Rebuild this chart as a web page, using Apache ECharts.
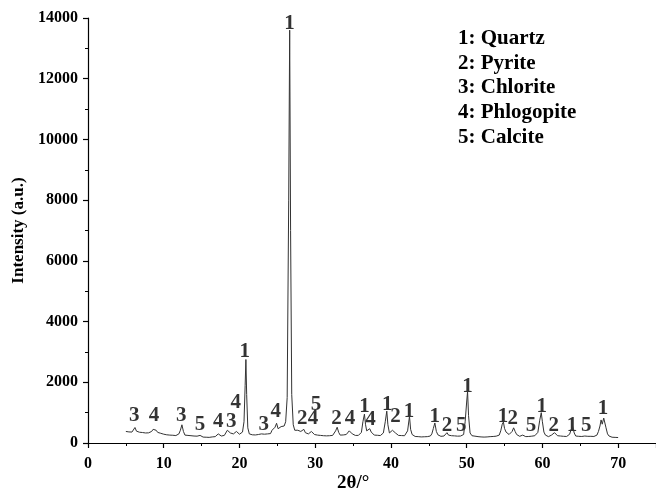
<!DOCTYPE html>
<html>
<head>
<meta charset="utf-8">
<script src="https://cdn.jsdelivr.net/npm/echarts@6/dist/echarts.min.js"></script>
<style>
  html, body { margin: 0; padding: 0; background: #fff; }
  #chart { width: 656px; height: 492px; }
</style>
</head>
<body>
<div id="chart"></div>
<script>
// XRD pattern: [2θ, intensity]
const pattern = [
  [5.0,380],[5.2,350],[5.4,365],[5.6,330],[5.8,360],[6.0,420],[6.2,510],[6.4,390],[6.6,340],[6.8,355],
  [7.0,320],[7.2,345],[7.4,310],[7.6,330],[7.8,300],[8.0,335],[8.2,320],[8.4,380],[8.6,450],[8.8,500],
  [9.0,420],[9.2,350],[9.4,300],[9.6,320],[9.8,270],[10.0,290],[10.2,250],[10.4,270],[10.6,240],[10.8,260],
  [11.0,230],[11.2,255],[11.4,225],[11.6,245],[11.8,260],[12.0,300],[12.2,420],[12.4,600],[12.6,380],[12.8,260],
  [13.0,230],[13.2,250],[13.4,210],[13.6,240],[13.8,215],[14.0,230],[14.2,200],[14.4,225],[14.6,205],[14.8,250],
  [15.0,215],[15.2,195],[15.4,220],[15.6,190],[15.8,210],[16.0,185],[16.2,215],[16.4,200],[16.6,230],[16.8,210],
  [17.0,250],[17.2,300],[17.4,260],[17.6,230],[17.8,270],[18.0,250],[18.2,310],[18.4,420],[18.6,480],[18.8,330],
  [19.0,280],[19.2,300],[19.4,330],[19.6,380],[19.8,320],[20.0,290],[20.2,310],[20.4,360],[20.6,700],[20.75,1900],
  [20.85,2750],[20.95,1600],[21.1,500],[21.3,300],[21.5,250],[21.7,270],[21.9,240],[22.1,265],[22.3,250],[22.5,280],
  [22.7,260],[22.9,300],[23.1,340],[23.3,290],[23.5,330],[23.7,300],[23.9,360],[24.1,310],[24.3,420],[24.5,380],
  [24.7,520],[24.9,650],[25.1,470],[25.3,500],[25.5,540],[25.7,480],[25.9,560],[26.1,700],[26.3,1500],[26.5,8000],
  [26.63,13600],[26.75,7000],[26.9,1600],[27.1,600],[27.3,420],[27.5,380],[27.7,420],[27.9,480],[28.1,380],[28.3,400],
  [28.5,450],[28.7,340],[28.9,320],[29.1,300],[29.3,330],[29.5,380],[29.7,320],[29.9,280],[30.1,300],[30.3,260],
  [30.5,285],[30.7,250],[30.9,270],[31.1,240],[31.3,265],[31.5,235],[31.7,255],[31.9,240],[32.1,270],[32.3,250],
  [32.5,300],[32.7,400],[32.9,520],[33.1,350],[33.3,260],[33.5,240],[33.7,265],[33.9,250],[34.1,280],[34.3,320],
  [34.5,400],[34.7,360],[34.9,300],[35.1,270],[35.3,250],[35.5,230],[35.7,250],[35.9,280],[36.1,350],[36.3,700],
  [36.5,950],[36.65,600],[36.8,400],[37.0,430],[37.2,470],[37.4,360],[37.6,300],[37.8,260],[38.0,240],[38.2,255],
  [38.4,230],[38.6,245],[38.8,270],[39.0,330],[39.25,700],[39.45,1050],[39.6,600],[39.8,330],[40.0,380],[40.2,420],
  [40.4,380],[40.6,330],[40.8,280],[41.0,250],[41.2,230],[41.4,245],[41.6,220],[41.8,240],[42.0,260],[42.2,400],
  [42.45,880],[42.6,450],[42.8,280],[43.0,230],[43.2,215],[43.4,235],[43.6,210],[43.8,225],[44.0,200],[44.2,220],
  [44.4,205],[44.6,225],[44.8,210],[45.0,240],[45.2,230],[45.4,300],[45.6,480],[45.8,660],[46.0,380],[46.2,270],
  [46.4,240],[46.6,220],[46.8,245],[47.0,230],[47.2,280],[47.4,340],[47.6,260],[47.8,225],[48.0,240],[48.2,215],
  [48.4,235],[48.6,250],[48.8,225],[49.0,240],[49.2,230],[49.4,260],[49.6,280],[49.8,700],[50.0,1350],[50.12,1700],
  [50.25,900],[50.45,330],[50.7,240],[50.9,210],[51.1,225],[51.3,190],[51.5,210],[51.7,180],[51.9,200],[52.1,175],
  [52.3,195],[52.5,180],[52.7,200],[52.9,185],[53.1,210],[53.3,190],[53.5,215],[53.7,200],[53.9,225],[54.1,215],
  [54.3,260],[54.5,400],[54.7,620],[54.85,690],[55.0,480],[55.2,360],[55.4,300],[55.6,280],[55.8,320],[56.0,380],
  [56.2,500],[56.4,380],[56.6,280],[56.8,240],[57.0,220],[57.2,240],[57.4,260],[57.6,230],[57.8,210],[58.0,230],
  [58.2,215],[58.4,240],[58.6,225],[58.8,250],[59.0,240],[59.2,280],[59.4,350],[59.65,750],[59.85,1000],[60.0,700],
  [60.2,360],[60.4,260],[60.6,230],[60.8,210],[61.0,230],[61.2,260],[61.4,300],[61.6,340],[61.8,290],[62.0,240],
  [62.2,215],[62.4,230],[62.6,205],[62.8,220],[63.0,200],[63.2,215],[63.4,230],[63.6,290],[63.8,450],[64.0,540],
  [64.2,330],[64.4,230],[64.6,210],[64.8,220],[65.0,200],[65.2,215],[65.4,195],[65.6,230],[65.8,260],[66.0,220],
  [66.2,205],[66.4,220],[66.6,200],[66.8,215],[67.0,230],[67.2,260],[67.4,380],[67.6,560],[67.75,760],[67.9,620],
  [68.1,820],[68.25,860],[68.4,500],[68.6,300],[68.8,230],[69.0,210],[69.2,190],[69.4,205],[69.6,185],[69.8,195],
  [70.0,180]
];

// peak labels: [2θ, intensity, phase number]
const peakLabels = [
  [6.1,890,'3'],[8.7,890,'4'],[12.3,890,'3'],[14.8,620,'5'],[17.2,690,'4'],[18.9,690,'3'],
  [19.5,1320,'4'],[20.7,3000,'1'],[23.2,620,'3'],[24.8,1050,'4'],[26.6,13830,'1'],
  [28.3,820,'2'],[29.7,820,'4'],[30.1,1250,'5'],[32.8,820,'2'],[34.6,820,'4'],
  [36.5,1200,'1'],[37.3,760,'4'],[39.5,1250,'1'],[40.6,870,'2'],[42.4,1020,'1'],
  [45.8,860,'1'],[47.4,590,'2'],[49.3,590,'5'],[50.1,1850,'1'],[54.8,860,'1'],
  [56.1,790,'2'],[58.5,590,'5'],[59.9,1190,'1'],[61.5,560,'2'],[63.9,560,'1'],
  [65.8,590,'5'],[68.0,1150,'1']
];

const phaseNames = ['1: Quartz', '2: Pyrite', '3: Chlorite', '4: Phlogopite', '5: Calcite'];

const font = '"Liberation Serif", "DejaVu Serif", serif';

const chart = echarts.init(document.getElementById('chart'));

const option = {
  animation: false,
  backgroundColor: '#fff',
  grid: { left: 88, right: 0, top: 18, bottom: 49 },
  xAxis: {
    type: 'value',
    min: 0,
    max: 75,
    interval: 10,
    axisLine: { lineStyle: { color: '#000', width: 1.2 } },
    axisTick: { inside: false, length: 5, lineStyle: { color: '#000', width: 1.2 } },
    minorTick: { show: true, splitNumber: 2, length: 3, lineStyle: { color: '#000', width: 1 } },
    splitLine: { show: false },
    axisLabel: {
      showMaxLabel: false,
      margin: 13,
      color: '#000',
      fontFamily: font,
      fontWeight: 'bold',
      fontSize: 16
    }
  },
  yAxis: {
    type: 'value',
    min: 0,
    max: 14000,
    interval: 2000,
    name: 'Intensity (a.u.)',
    nameLocation: 'middle',
    nameGap: 58,
    nameTextStyle: { color: '#000', fontFamily: font, fontWeight: 'bold', fontSize: 17 },
    axisLine: { show: true, lineStyle: { color: '#000', width: 1.2 } },
    axisTick: { show: true, length: 5, lineStyle: { color: '#000', width: 1.2 } },
    minorTick: { show: true, splitNumber: 2, length: 3, lineStyle: { color: '#000', width: 1 } },
    splitLine: { show: false },
    axisLabel: {
      margin: 10,
      color: '#000',
      fontFamily: font,
      fontWeight: 'bold',
      fontSize: 16,
      formatter: v => String(v)
    }
  },
  series: [
    {
      type: 'line',
      data: pattern,
      showSymbol: false,
      smooth: false,
      lineStyle: { color: '#333', width: 1 }
    },
    {
      type: 'scatter',
      data: peakLabels,
      symbolSize: 0,
      clip: false,
      label: {
        show: true,
        position: 'inside',
        formatter: p => p.value[2],
        color: '#000',
        fontFamily: font,
        fontWeight: 'bold',
        fontSize: 21
      }
    }
  ],
  graphic: phaseNames.map((t, i) => ({
    type: 'text',
    left: 458,
    top: 28 + i * 24.7,
    style: {
      text: t,
      fill: '#000',
      font: 'bold 21px ' + font
    }
  })).concat([{
    type: 'text',
    left: 337,
    top: 474,
    style: {
      text: '2θ/°',
      fill: '#000',
      font: 'bold 19px ' + font
    }
  }])
};

chart.setOption(option);
</script>
</body>
</html>
